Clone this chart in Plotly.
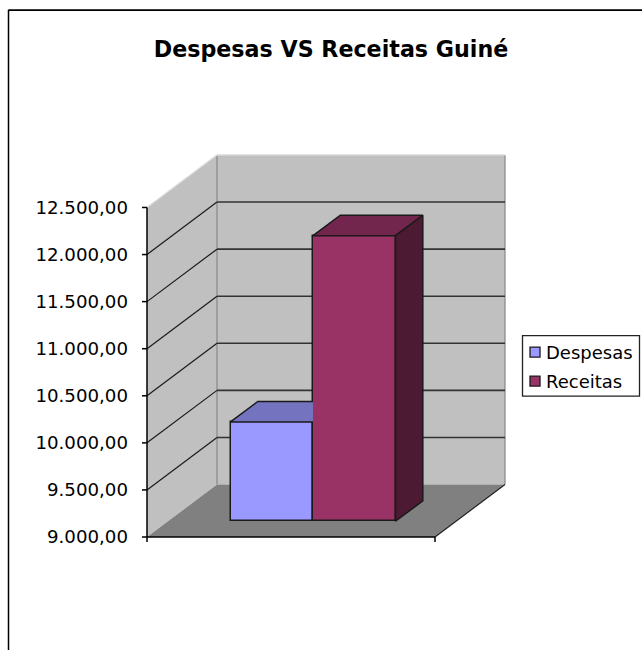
import plotly.graph_objects as go

# --- data ---
series_names = ["Despesas", "Receitas"]
series_values = [10055, 12033]
tick_values = [9000, 9500, 10000, 10500, 11000, 11500, 12000, 12500]
title_text = "Despesas VS Receitas Guiné"

# --- colours ---
fronts = ["#9999FF", "#993366"]
tops = ["#7373BF", "#73264D"]
sides = ["#4D4D80", "#4D1A33"]

# --- layout geometry (pixels) ---
W, H = 642, 650
X0_PX, X1_PX = 147, 435       # front plane left / right
Y0_PX, Y1_PX = 537, 207.3     # front plane at Y_MIN / Y_MAX
PAD, PAD_L, PAD_B = 3, 7, 7   # plot area slack so edge lines and ticks are not clipped
TICK_LEN = 5
DX_PX, DY_PX = 70, 52.5
L, R, T, B = X0_PX - PAD_L, X1_PX + DX_PX + PAD, Y1_PX - DY_PX - PAD, Y0_PX + PAD_B
Y_MIN, Y_MAX = 9000, 12500
PX_PER_UNIT = (Y0_PX - Y1_PX) / (Y_MAX - Y_MIN)
PX_PER_X = X1_PX - X0_PX
DEPTH_X = DX_PX / PX_PER_X
DEPTH_Y = DY_PX / PX_PER_UNIT
BAR_D0, BAR_D1 = 0.30, 0.69
BAR_X0 = 0.217
BAR_W = 0.2865
EDGE = "#1A1A1A"


def proj(x, v, d):
    return x + d * DEPTH_X, v + d * DEPTH_Y


def poly_path(points):
    return "M" + "L".join(f"{x},{y}" for x, y in points) + "Z"


def line_shape(p0, p1, color, width=1):
    return dict(type="line", xref="x", yref="y", layer="below",
                x0=p0[0], y0=p0[1], x1=p1[0], y1=p1[1],
                line=dict(color=color, width=width))


def px(x):
    return (x - L) / (R - L)


def py(y):
    return (B - y) / (B - T)


shapes = []
# chart frame
shapes.append(dict(type="line", xref="paper", yref="paper", layer="below",
                   x0=px(8.5), x1=px(8.5), y0=py(9.5), y1=py(650),
                   line=dict(color="#000000", width=1.5)))
shapes.append(dict(type="line", xref="paper", yref="paper", layer="below",
                   x0=px(8.5), x1=px(642), y0=py(9.8), y1=py(9.8),
                   line=dict(color="#000000", width=1.8)))
# walls and floor
shapes.append(dict(type="path", xref="x", yref="y", layer="below", line=dict(width=0),
                   fillcolor="#C0C0C0",
                   path=poly_path([proj(0, Y_MIN, 0), proj(0, Y_MIN, 1), proj(1, Y_MIN, 1),
                                   proj(1, Y_MAX, 1), proj(0, Y_MAX, 1), proj(0, Y_MAX, 0)])))
shapes.append(dict(type="path", xref="x", yref="y", layer="below", line=dict(width=0),
                   fillcolor="#808080",
                   path=poly_path([proj(0, Y_MIN, 0), proj(0, Y_MIN, 1),
                                   proj(1, Y_MIN, 1), proj(1, Y_MIN, 0)])))
shapes.append(line_shape(proj(0, Y_MIN, 1), proj(0, Y_MAX, 1), "#8C8C8C", 1.3))
shapes.append(line_shape(proj(1, Y_MIN, 1), proj(1, Y_MAX, 1), "#8C8C8C", 1.3))
shapes.append(line_shape(proj(0, Y_MAX, 1), proj(1, Y_MAX, 1), "#D8D8D8", 1.3))
shapes.append(line_shape(proj(0, Y_MAX, 0), proj(0, Y_MAX, 1), "#D8D8D8", 1.3))
# grid lines
for v in tick_values[1:-1]:
    shapes.append(line_shape(proj(0, v, 0), proj(0, v, 1), "#1A1A1A", 1.2))
    shapes.append(line_shape(proj(0, v, 1), proj(1, v, 1), "#333333", 1.6))
# floor edges, axis lines and tick marks at the front plane
shapes.append(line_shape(proj(1, Y_MIN, 0), proj(1, Y_MIN, 1), "#222222", 1.2))
shapes.append(line_shape(proj(0, Y_MIN, 0), proj(0, Y_MAX, 0), "#000000", 1.5))
shapes.append(line_shape(proj(0, Y_MIN, 0), proj(1, Y_MIN, 0), "#000000", 1.5))
for v in tick_values:
    shapes.append(line_shape((-TICK_LEN / PX_PER_X, v), (0, v), "#000000", 1.5))
for x in (0, 1):
    shapes.append(line_shape((x, Y_MIN - TICK_LEN / PX_PER_UNIT), (x, Y_MIN), "#000000", 1.5))

fig = go.Figure()

# bar fronts
_, base_value = proj(0, Y_MIN, BAR_D0)
x_shift = BAR_D0 * DEPTH_X
for i, (name, value) in enumerate(zip(series_names, series_values)):
    x_left = BAR_X0 + i * BAR_W + x_shift
    fig.add_trace(go.Bar(x=[x_left + BAR_W / 2], y=[value - Y_MIN], base=[base_value], width=[BAR_W],
                         name=name, marker=dict(color=fronts[i], line=dict(color=EDGE, width=1.5)),
                         showlegend=False, hoverinfo="skip"))

# bar tops and sides
for i, value in enumerate(series_values):
    x0 = BAR_X0 + i * BAR_W
    x1 = x0 + BAR_W
    fl = proj(x0, value, BAR_D0)
    fr = proj(x1, value, BAR_D0)
    bl = proj(x0, value, BAR_D1)
    br = proj(x1, value, BAR_D1)
    hidden_right = i + 1 < len(series_values) and series_values[i + 1] > value
    if hidden_right:
        # the next, taller bar hides the right part of this bar's top
        clipped = (fr[0], bl[1])
        pts = [fr, fl, bl, clipped]
        fig.add_trace(go.Scatter(x=[p[0] for p in pts], y=[p[1] for p in pts], mode="lines",
                                 fill="toself", fillcolor=tops[i], line=dict(color=EDGE, width=1.5),
                                 showlegend=False, hoverinfo="skip"))
    else:
        pts = [fl, bl, br, fr, fl]
        fig.add_trace(go.Scatter(x=[p[0] for p in pts], y=[p[1] for p in pts], mode="lines",
                                 fill="toself", fillcolor=tops[i], line=dict(color=EDGE, width=1.5),
                                 showlegend=False, hoverinfo="skip"))
        fb = proj(x1, Y_MIN, BAR_D0)
        bb = proj(x1, Y_MIN, BAR_D1)
        pts = [fr, br, bb, fb, fr]
        fig.add_trace(go.Scatter(x=[p[0] for p in pts], y=[p[1] for p in pts], mode="lines",
                                 fill="toself", fillcolor=sides[i], line=dict(color=EDGE, width=1.5),
                                 showlegend=False, hoverinfo="skip"))

# legend box
font_name = "DejaVu Sans"
shapes.append(dict(type="rect", xref="paper", yref="paper", layer="below",
                   x0=px(522.5), x1=px(639.5), y0=py(335.5), y1=py(396),
                   line=dict(color="#222222", width=1.3), fillcolor="#FFFFFF"))
annotations = []
legend_rows = [352, 381]
for i, name in enumerate(series_names):
    yc = legend_rows[i]
    shapes.append(dict(type="rect", xref="paper", yref="paper", layer="below",
                       x0=px(530), x1=px(540), y0=py(yc - 5), y1=py(yc + 5),
                       line=dict(color="#1A1A1A", width=1.3), fillcolor=fronts[i]))
    annotations.append(dict(text=name, xref="paper", yref="paper", x=px(546), y=py(yc),
                            xanchor="left", yanchor="middle", showarrow=False,
                            xshift=-1, borderpad=0,
                            font=dict(family=font_name, size=18, color="#000000")))

fig.update_layout(
    width=W, height=H, autosize=False,
    margin=dict(l=L, r=W - R, t=T, b=H - B, pad=0),
    paper_bgcolor="#FFFFFF", plot_bgcolor="rgba(0,0,0,0)",
    showlegend=False, bargap=0, separators=",.",
    title=dict(text=title_text, x=331 / W, xanchor="center", y=1 - 49 / H, yanchor="middle",
               xref="container", yref="container",
               font=dict(family=font_name, size=22.2, color="#000000", weight="bold")),
    font=dict(family=font_name, color="#000000"),
    xaxis=dict(range=[-PAD_L / PX_PER_X, 1 + DEPTH_X + PAD / PX_PER_X],
               showticklabels=False, ticks="", showgrid=False,
               zeroline=False, showline=False, fixedrange=True),
    yaxis=dict(range=[Y_MIN - PAD_B / PX_PER_UNIT, Y_MAX + DEPTH_Y + PAD / PX_PER_UNIT],
               tickmode="array", tickvals=tick_values,
               tickformat=",.2f", ticks="",
               ticklabelstandoff=11, showgrid=False, zeroline=False, showline=False, fixedrange=True,
               tickfont=dict(family=font_name, size=18.2, color="#000000")),
    shapes=shapes, annotations=annotations,
)

fig.write_html("out.html", config=dict(displayModeBar=False),
               post_script="document.body.style.margin='0';document.body.style.overflow='hidden';")
